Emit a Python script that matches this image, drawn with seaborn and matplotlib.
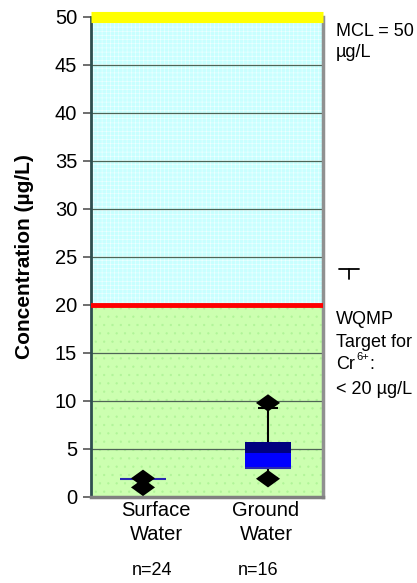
import numpy as np
import pandas as pd
import matplotlib
matplotlib.use("Agg")
import matplotlib.pyplot as plt
from matplotlib.lines import Line2D
from matplotlib.transforms import ScaledTranslation
import seaborn as sns

# ---- data ----
categories = ["Surface\nWater", "Ground\nWater"]
n_labels = ["n=24", "n=16"]
q1 = [1.9, 3.05]
median = [1.9, 4.6]
q3 = [1.9, 5.7]
whisker_low = [1.9, 2.0]
whisker_high = [1.9, 9.3]
minimum = [1.0, 1.9]
maximum = [1.95, 9.8]
mcl = 50
target = 20
yticks = list(range(0, 51, 5))

sns.set_theme(style="white")
plt.rcParams["font.family"] = ["Liberation Sans", "DejaVu Sans"]
plt.rcParams["hatch.linewidth"] = 0.4
plt.rcParams["text.color"] = "black"
plt.rcParams["axes.labelcolor"] = "black"

W, H = 417, 583
fig = plt.figure(figsize=(4.17, 5.83), dpi=100)
ax = fig.add_axes([91 / W, 1 - 497 / H, 232 / W, 480 / H])

# background zones
ax.axhspan(target, mcl, facecolor="#C8FFFF", edgecolor="#F0FFFF", hatch="++++", linewidth=0, zorder=0)
ax.axhspan(0, target, facecolor="#CCFFB0", edgecolor="#B0F498", hatch="..", linewidth=0, zorder=0)

for v in yticks[1:-1]:
    if v != target:
        ax.axhline(v, color="#4E6456", lw=0.9, zorder=1)

df = pd.DataFrame({
    "cat": categories,
    "lower": np.array(median) - np.array(q1),
    "upper": np.array(q3) - np.array(median),
    "q1": q1, "med": median,
})

# box halves
sns.barplot(data=df, x="cat", y="lower", bottom=df["q1"].values, color="#0000FF",
            saturation=1, width=0.368, linewidth=0, errorbar=None, ax=ax, zorder=3)
sns.barplot(data=df, x="cat", y="upper", bottom=df["med"].values, color="#000080",
            saturation=1, width=0.368, linewidth=0, errorbar=None, ax=ax, zorder=3)

pos = np.arange(len(categories))
# box bottom line (visible for the collapsed surface-water box)
ax.hlines(q1, pos - 0.184, pos + 0.184, color="#2828B0", lw=1.5, zorder=4)
# whiskers
ax.vlines(pos, whisker_low, q1, color="black", lw=1.5, zorder=2)
ax.vlines(pos, q3, whisker_high, color="black", lw=1.5, zorder=2)
ax.hlines(whisker_high[1:], pos[1:] - 0.08, pos[1:] + 0.08, color="black", lw=1.5, zorder=2)
ax.hlines(whisker_low[1:], pos[1:] - 0.08, pos[1:] + 0.08, color="black", lw=1.5, zorder=2)

# min / max diamonds
diamond = [(-1, 0), (0, 0.72), (1, 0), (0, -0.72), (-1, 0)]
pts = pd.DataFrame({"cat": categories * 2, "val": maximum + minimum})
sns.scatterplot(data=pts, x="cat", y="val", marker=diamond, s=300, color="black",
                edgecolor="none", ax=ax, zorder=5, legend=False)

# reference lines
ax.axhline(target, color="#FF0000", lw=3.5, zorder=6)
ax.axhline(mcl, color="#FFFF00", lw=8, zorder=6, clip_on=False, solid_capstyle="butt")

ax.set_xlim(-0.416, 1.44)
ax.set_ylim(0, 50)
ax.set_yticks(yticks)
ax.set_yticklabels([str(v) for v in yticks], fontsize=14.5)
ax.set_xticks(pos)
ax.set_xticklabels(categories, fontsize=14.5, linespacing=1.35)
ax.tick_params(axis="y", left=True, length=6, width=1.2, color="#555555", pad=4,
               direction="out", labelcolor="black")
ax.tick_params(axis="x", bottom=False, length=0, pad=3, labelcolor="black")
# category labels sit slightly off the box centres in the reference
for lab, dx in zip(ax.get_xticklabels(), [13, -2]):
    lab.set_transform(lab.get_transform() + ScaledTranslation(dx / 100, 0, fig.dpi_scale_trans))
ax.set_xlabel("")
ax.set_ylabel("")
ax.grid(False)

ax.spines["top"].set_visible(False)
ax.spines["left"].set_color("#2F4F4F")
ax.spines["left"].set_linewidth(2)
ax.spines["bottom"].set_color("#808080")
ax.spines["bottom"].set_linewidth(2.5)
ax.spines["right"].set_color("#909090")
ax.spines["right"].set_linewidth(2.5)


def ftext(x, y, s, **kw):
    return fig.text(x / W, 1 - y / H, s, color="black", **kw)


ftext(25, 257, "Concentration (µg/L)", fontsize=15, fontweight="bold",
      rotation=90, ha="center", va="center")

# n labels
for xpix, t in zip([152, 258], n_labels):
    ftext(xpix, 575, t, fontsize=13, ha="center", va="baseline")

# right-hand annotations
ftext(336, 36, "MCL = 50", fontsize=13, va="baseline")
ftext(336, 57, "µg/L", fontsize=13, va="baseline")
ftext(336, 324, "WQMP", fontsize=13, va="baseline")
ftext(336, 347, "Target for", fontsize=13, va="baseline")
ftext(336, 369, "Cr", fontsize=13, va="baseline")
ftext(356, 360, "6+", fontsize=8, va="baseline")
ftext(369, 369, ":", fontsize=13, va="baseline")
ftext(336, 394, "< 20 µg/L", fontsize=13, va="baseline")

# small tack mark
fig.add_artist(Line2D([339 / W, 359 / W], [1 - 269 / H, 1 - 269 / H], color="black", lw=1.3))
fig.add_artist(Line2D([349 / W, 349 / W], [1 - 269 / H, 1 - 279 / H], color="black", lw=1.3))

fig.savefig("out.png", dpi=100)
